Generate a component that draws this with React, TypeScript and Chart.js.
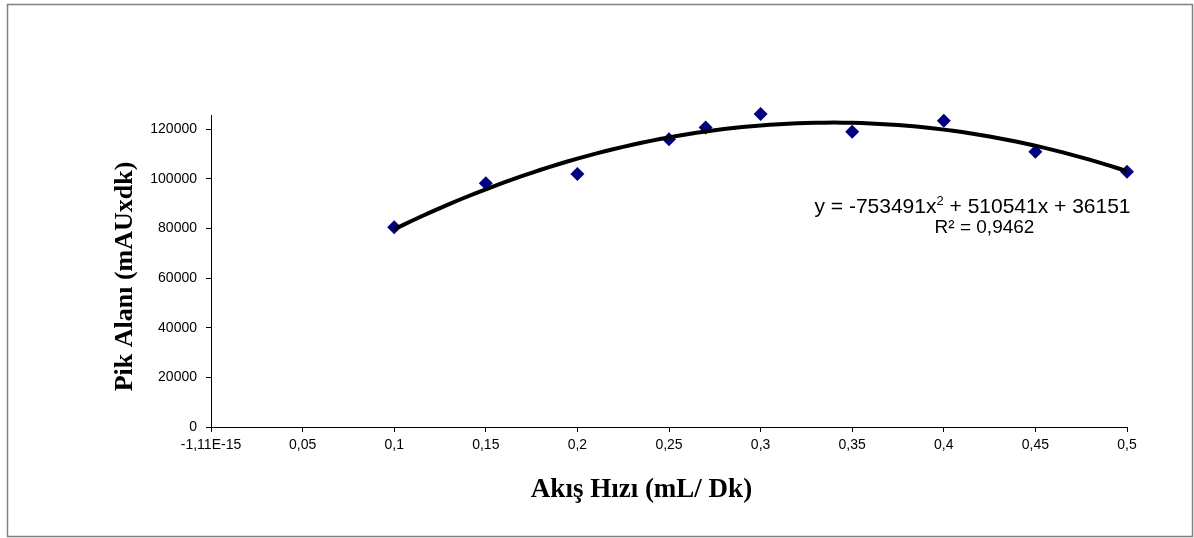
import React, { useEffect, useRef } from "react";
import { Chart, registerables } from "chart.js";

Chart.register(...registerables);

// ---- data ----
const X_VALUES = [0.1, 0.15, 0.2, 0.25, 0.27, 0.3, 0.35, 0.4, 0.45, 0.5];
const Y_VALUES = [80500, 98200, 101900, 115900, 120700, 126100, 119000, 123400, 110900, 102800];

const X_TICKS = [0, 0.05, 0.1, 0.15, 0.2, 0.25, 0.3, 0.35, 0.4, 0.45, 0.5];
const X_TICK_LABELS = ["-1,11E-15", "0,05", "0,1", "0,15", "0,2", "0,25", "0,3", "0,35", "0,4", "0,45", "0,5"];
const Y_TICKS = [0, 20000, 40000, 60000, 80000, 100000, 120000];
const Y_TICK_LABELS = ["0", "20000", "40000", "60000", "80000", "100000", "120000"];

// Trendline (2nd-order polynomial) as displayed on the chart: a*x^2 + b*x + c
const TREND_COEFFS = [-753491, 510541, 36151];
const TREND_RANGE = [0.1, 0.5];
const EQUATION_PARTS = ["y = -753491x", "2", " + 510541x + 36151"];
const R2_TEXT = "R² = 0,9462";

const X_TITLE = "Akış Hızı (mL/ Dk)";
const Y_TITLE = "Pik Alanı (mAUxdk)";

const MARKER_COLOR = "#000080";

function trendPoints() {
  const pts: { x: number; y: number }[] = [];
  const n = 80;
  const [a, b, c] = TREND_COEFFS;
  for (let i = 0; i <= n; i++) {
    const x = TREND_RANGE[0] + ((TREND_RANGE[1] - TREND_RANGE[0]) * i) / n;
    pts.push({ x, y: a * x * x + b * x + c });
  }
  return pts;
}

const decorPlugin = {
  id: "decor",
  afterDraw(chart: any) {
    const ctx = chart.ctx as CanvasRenderingContext2D;
    ctx.save();
    // outer frame
    ctx.strokeStyle = "#808080";
    ctx.lineWidth = 1.5;
    ctx.strokeRect(7.5, 4.5, 1185, 532);

    // axis titles
    ctx.fillStyle = "#000";
    ctx.textAlign = "center";
    ctx.textBaseline = "alphabetic";
    ctx.font = "bold 27px 'Liberation Serif', 'Times New Roman', serif";
    ctx.fillText(X_TITLE, 641.5, 497);

    ctx.font = "bold 26px 'Liberation Serif', 'Times New Roman', serif";
    ctx.save();
    ctx.translate(132, 276.5);
    ctx.rotate(-Math.PI / 2);
    ctx.fillText(Y_TITLE, 0, 0);
    ctx.restore();

    // equation
    const big = "21px 'Liberation Sans', Arial, sans-serif";
    const small = "13px 'Liberation Sans', Arial, sans-serif";
    ctx.textAlign = "left";
    ctx.font = big;
    const w1 = ctx.measureText(EQUATION_PARTS[0]).width;
    const w3 = ctx.measureText(EQUATION_PARTS[2]).width;
    ctx.font = small;
    const w2 = ctx.measureText(EQUATION_PARTS[1]).width;
    const total = w1 + w2 + w3;
    let x = 972.5 - total / 2;
    const base = 213;
    ctx.font = big;
    ctx.fillText(EQUATION_PARTS[0], x, base);
    x += w1;
    ctx.font = small;
    ctx.fillText(EQUATION_PARTS[1], x, base - 8);
    x += w2;
    ctx.font = big;
    ctx.fillText(EQUATION_PARTS[2], x, base);

    ctx.textAlign = "center";
    ctx.font = "19px 'Liberation Sans', Arial, sans-serif";
    ctx.fillText(R2_TEXT, 984.5, 233);
    ctx.restore();
  },
};

export default function App() {
  const ref = useRef<HTMLCanvasElement | null>(null);

  useEffect(() => {
    if (!ref.current) return;
    const chart = new Chart(ref.current, {
      type: "scatter",
      data: {
        datasets: [
          {
            type: "line",
            label: "trend",
            data: trendPoints(),
            borderColor: "#000",
            borderWidth: 4,
            pointRadius: 0,
            tension: 0,
            fill: false,
            order: 0,
            clip: false as any,
          },
          {
            type: "scatter",
            label: "data",
            data: X_VALUES.map((x, i) => ({ x, y: Y_VALUES[i] })),
            pointStyle: "rectRot",
            pointRadius: 7,
            pointBackgroundColor: MARKER_COLOR,
            pointBorderColor: MARKER_COLOR,
            pointBorderWidth: 0,
            order: 1,
            clip: false as any,
          },
        ] as any,
      },
      options: {
        animation: false,
        responsive: false,
        devicePixelRatio: 1,
        layout: { padding: { top: 115, right: 67, left: 0, bottom: 0 } },
        plugins: { legend: { display: false }, tooltip: { enabled: false } },
        scales: {
          x: {
            type: "linear",
            min: 0,
            max: 0.5,
            afterBuildTicks: (scale: any) => {
              scale.ticks = X_TICKS.map((v) => ({ value: v }));
            },
            afterFit: (scale: any) => {
              scale.height = 111;
            },
            grid: { display: true, drawOnChartArea: false, drawTicks: true, tickLength: 5, color: "#000" },
            border: { display: true, color: "#000", width: 1 },
            ticks: {
              autoSkip: false,
              maxRotation: 0,
              padding: 5,
              color: "#000",
              font: { family: "'Liberation Sans', Arial, sans-serif", size: 14 },
              callback: (_v: any, i: number) => X_TICK_LABELS[i],
            },
          },
          y: {
            type: "linear",
            min: 0,
            max: 125700,
            afterBuildTicks: (scale: any) => {
              scale.ticks = Y_TICKS.map((v) => ({ value: v }));
            },
            afterFit: (scale: any) => {
              scale.width = 211;
            },
            grid: { display: true, drawOnChartArea: false, drawTicks: true, tickLength: 5, color: "#000" },
            border: { display: true, color: "#000", width: 1 },
            ticks: {
              autoSkip: false,
              padding: 9,
              color: "#000",
              font: { family: "'Liberation Sans', Arial, sans-serif", size: 14 },
              callback: (_v: any, i: number) => Y_TICK_LABELS[i],
            },
          },
        },
      } as any,
      plugins: [decorPlugin],
    });
    return () => chart.destroy();
  }, []);

  return (
    <div style={{ position: "absolute", left: 0, top: 0, width: 1194, height: 538, background: "#fff" }}>
      <canvas ref={ref} width={1194} height={538} style={{ display: "block" }} />
    </div>
  );
}
